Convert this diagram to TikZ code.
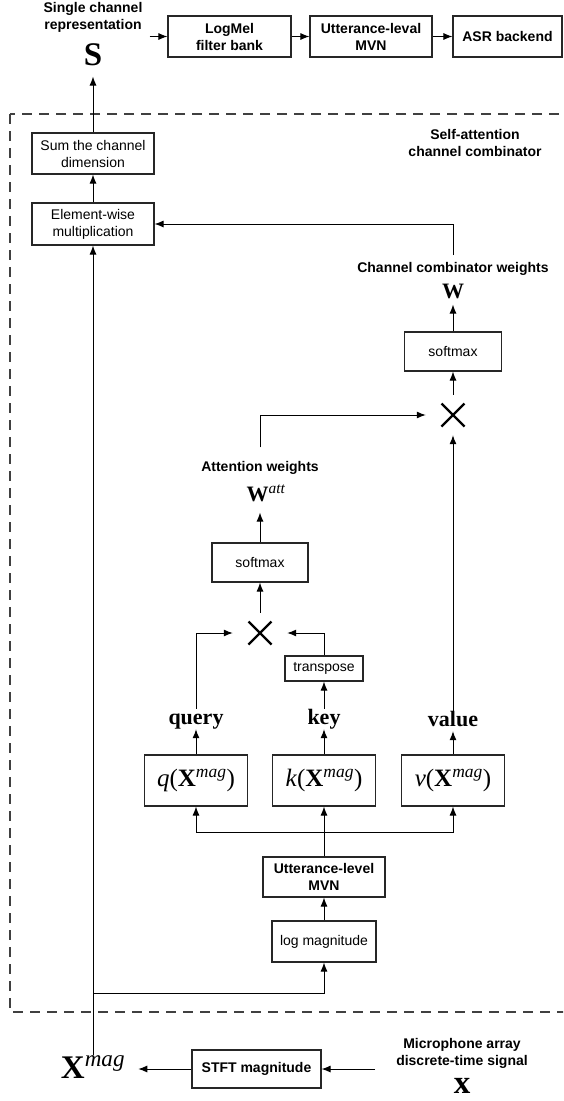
\documentclass[tikz,border=0pt]{standalone}
\usepackage{fix-cm}
\usepackage{amsmath}
\usepackage{fontspec}
\setmainfont{Liberation Sans}
\newfontfamily\tms{Liberation Serif}
\usepackage{tikz}
\usetikzlibrary{arrows.meta}

\newcommand{\sups}[1]{\ensuremath{^{\text{\mdseries\itshape #1}}}}

\begin{document}
\begin{tikzpicture}[x=1pt,y=-1pt,
		box/.style={draw=black!85,line width=1.1pt,inner sep=0pt,align=center,font=\fontsize{14}{17}\selectfont},
		bbox/.style={box,font=\fontsize{14}{17}\selectfont\bfseries},
		lbl/.style={inner sep=0pt,align=center,font=\fontsize{14}{17}\selectfont\bfseries},
		sym/.style={inner sep=0pt,anchor=base,font=\fontsize{22}{26}\selectfont\tms\bfseries},
		bigsym/.style={sym,font=\fontsize{33}{38}\selectfont\tms\bfseries},
		word/.style={sym,text height=15pt,text depth=5pt},
		fun/.style={box,minimum width=103pt,minimum height=51pt,font=\fontsize{25}{29}\selectfont\tms},
		arr/.style={line width=1pt,-{Latex[length=9pt,width=7pt]}},
		wire/.style={line width=1pt},
		mul/.style={minimum width=54pt,minimum height=40pt,inner sep=0pt,
			path picture={\draw[line width=2.4pt]
				([shift={(-11.5pt,-11.5pt)}]path picture bounding box.center) -- ([shift={(11.5pt,11.5pt)}]path picture bounding box.center)
				([shift={(-11.5pt,11.5pt)}]path picture bounding box.center) -- ([shift={(11.5pt,-11.5pt)}]path picture bounding box.center);}}]
		\useasboundingbox (0,0) rectangle (563,1101);
		\clip (0,0) rectangle (563,1101);

		\draw[black!75,line width=1.2pt,dash pattern=on 10pt off 7pt] (10,114) rectangle (585,1012);

		\node[lbl] (outlbl) at (93,17) {Single channel\\representation};
		\node[bigsym] (S) at (93,65) {S};
		\node[bbox,minimum width=123pt,minimum height=41pt] (logmel) at (229.5,36.5) {LogMel\\filter bank};
		\node[bbox,minimum width=122pt,minimum height=41pt] (mvnout) at (371,36.5) {Utterance-leval\\MVN};
		\node[bbox,minimum width=109pt,minimum height=41pt] (asr) at (507.5,36.5) {ASR backend};
		\draw[arr,shorten <=7pt] (outlbl.east |- logmel.west) -- (logmel.west);
		\draw[arr] (logmel) -- (mvnout);
		\draw[arr] (mvnout) -- (asr);

		\node[lbl] (salbl) at (475,143) {Self-attention\\channel combinator};
		\node[box,minimum width=122pt,minimum height=41pt] (sumch) at (93,153.5) {Sum the channel\\dimension};
		\node[box,minimum width=122pt,minimum height=42pt] (elem) at (93,224) {Element-wise\\multiplication};
		\draw[arr,shorten >=11pt] (sumch) -- (S);
		\draw[arr] (elem) -- (sumch);

		\node[lbl] (cclbl) at (453,269) {Channel combinator weights};
		\node[sym] (wch) at (453,298) {W};
		\node[box,minimum width=97pt,minimum height=39pt] (smch) at (453,351.5) {softmax};
		\node[mul] (mul2) at (453,415) {};
		\draw[arr,shorten <=7pt] (cclbl) |- (elem);
		\draw[arr,shorten >=6pt] (smch) -- (wch);
		\draw[arr] (mul2) -- (smch);

		\node[lbl] (attlbl) at (260,468) {Attention weights};
		\node[sym] (watt) at (266,501) {W\sups{att}};
		\node[box,minimum width=96pt,minimum height=39pt] (smatt) at (260,562.5) {softmax};
		\node[mul] (mul1) at (260,633) {};
		\draw[arr,shorten <=14pt] (attlbl) |- (mul2);
		\draw[arr,shorten >=11pt] (smatt.north) -- (smatt.north |- watt.south);
		\draw[arr] (mul1) -- (smatt);

		\node[box,minimum width=78pt,minimum height=25pt] (transp) at (324,668.5) {transpose};
		\node[word] (qw) at (196,724) {query};
		\node[word] (kw) at (324,724) {key};
		\node[word] (vw) at (453,726) {value};
		\draw[arr] (qw) |- (mul1);
		\draw[arr] (transp) |- (mul1);
		\draw[arr] (kw) -- (transp);
		\draw[arr] (vw) -- (mul2);

		\node[fun] (qf) at (196,780.5) {\textit{q}(\textbf{X}\sups{mag})};
		\node[fun] (kf) at (324,780.5) {\textit{k}(\textbf{X}\sups{mag})};
		\node[fun] (vf) at (453,780.5) {\textit{v}(\textbf{X}\sups{mag})};
		\draw[arr] (qf) -- (qw);
		\draw[arr] (kf) -- (kw);
		\draw[arr] (vf) -- (vw);

		\coordinate (split) at (324,832);
		\node[bbox,minimum width=122pt,minimum height=40pt] (mvnin) at (324,877) {Utterance-level\\MVN};
		\node[box,minimum width=104pt,minimum height=41pt] (logm) at (324,941.5) {log magnitude};
		\draw[wire] (mvnin) -- (split);
		\draw[arr] (split) -- (kf);
		\draw[arr] (split) -| (qf);
		\draw[arr] (split) -| (vf);
		\draw[arr] (logm) -- (mvnin);

		\coordinate (fork) at (93,993);
		\node[bigsym] (xmag) at (93,1078) {X\sups{mag}};
		\draw[arr] (xmag) -- (elem);
		\draw[arr] (fork) -| (logm);

		\node[bbox,minimum width=129pt,minimum height=38pt] (stft) at (256.5,1069) {STFT magnitude};
		\node[lbl] (miclbl) at (462,1053) {Microphone array\\discrete-time signal};
		\node[bigsym] (xin) at (462,1093) {x};
		\draw[arr,shorten >=13pt] (stft) -- (stft -| xmag.east);
		\draw[arr,shorten <=21pt] (miclbl.west |- stft) -- (stft);
\end{tikzpicture}
\end{document}
